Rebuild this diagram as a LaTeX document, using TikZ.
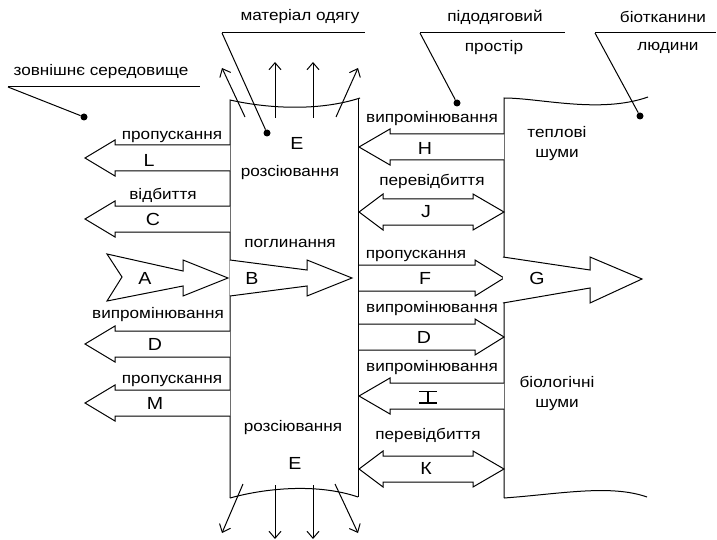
\documentclass[tikz,border=0pt]{standalone}
\usepackage{fontspec}
\setmainfont{Liberation Sans}[FakeStretch=1.12]
\usetikzlibrary{arrows.meta}
\newcommand\arrL[4]{% tip, base, end, cy
  \draw[arr] (#3,{#4-13}) -- (#2,{#4-13}) -- (#2,{#4-18}) -- (#1,#4) -- (#2,{#4+18}) -- (#2,{#4+13}) -- (#3,{#4+13});}
\newcommand\arrR[4]{% tip, base, start, cy
  \draw[arr] (#3,{#4-13}) -- (#2,{#4-13}) -- (#2,{#4-18}) -- (#1,#4) -- (#2,{#4+18}) -- (#2,{#4+13}) -- (#3,{#4+13});}
\newcommand\arrD[5]{% ltip, lbase, rbase, rtip, cy
  \draw[arr] (#1,#5) -- (#2,{#5-18}) -- (#2,{#5-13}) -- (#3,{#5-13}) -- (#3,{#5-18}) -- (#4,#5) -- (#3,{#5+18}) -- (#3,{#5+13}) -- (#2,{#5+13}) -- (#2,{#5+18}) -- cycle;}
\begin{document}
\begin{tikzpicture}[x=1pt,y=-1pt,
  lbl/.style={font=\fontsize{15.3}{17}\selectfont, inner sep=0pt},
  big/.style={font=\fontsize{17.5}{19}\selectfont, inner sep=0pt},
  arr/.style={draw, line width=1pt, fill=white, line join=miter},
  edge/.style={draw, line width=1pt},
  ray/.style={draw, line width=1pt, -{Straight Barb[length=7pt,width=12pt]}},
  dot/.style={circle, fill=black, inner sep=0pt, minimum size=7pt}]
\useasboundingbox (0,0) rectangle (717,540);
% material box
\draw[edge] (230,498) -- (230,100) .. controls (270,109) and (320,111) .. (360,98);
\draw[edge] (358,98) -- (358,497);
\draw[edge] (230,498) .. controls (270,487) and (320,484) .. (358,497);
% body
\draw[edge] (504,498) -- (504,98) .. controls (540,98) and (600,114) .. (648,97);
\draw[edge] (504,498) .. controls (560,494) and (610,484) .. (647,497);
% scattering rays
\draw[ray] (245,117) -- (222,68);
\draw[ray] (275,118) -- (275,62);
\draw[ray] (313,118) -- (313,62);
\draw[ray] (336,117) -- (358,68);
\draw[ray] (243,484) -- (222,533);
\draw[ray] (275,485) -- (275,539);
\draw[ray] (313,485) -- (313,539);
\draw[ray] (335,484) -- (358,533);
% leaders
\node[lbl] (tmat) at (300,17) {матеріал одягу};
\coordinate (cmat) at (222,33);
\draw[edge] (cmat) -- (365,33);
\node[dot] (dmat) at (267,133) {};
\draw[edge] (cmat) -- (dmat);
\node[lbl] (tsub1) at (495,17) {підодяговий};
\node[lbl] (tsub2) at (494,48) {простір};
\coordinate (csub) at (420,33);
\draw[edge] (csub) -- (565,33);
\node[dot] (dsub) at (457,103) {};
\draw[edge] (csub) -- (dsub);
\node[lbl] (tbio1) at (663,17) {біотканини};
\node[lbl] (tbio2) at (668,48) {людини};
\coordinate (cbio) at (595,33);
\draw[edge] (cbio) -- (716,33);
\node[dot] (dbio) at (640,116) {};
\draw[edge] (cbio) -- (dbio);
\node[lbl] (tenv) at (101,72) {зовнішнє середовище};
\coordinate (cenv) at (8,87);
\draw[edge] (cenv) -- (200,87);
\node[dot] (denv) at (84,117) {};
\draw[edge] (cenv) -- (denv);
% left arrows
\arrL{85}{115}{230}{158}
\arrL{85}{115}{230}{219}
\arrL{85}{115}{230}{344}
\arrL{85}{115}{230}{403}
\node[lbl] (t1) at (172,137) {пропускання};
\node[big] (nL) at (149,160) {L};
\node[lbl] (t2) at (163,195) {відбиття};
\node[big] (nC) at (153,219) {C};
\node[lbl] (t3) at (158,315) {випромінювання};
\node[big] (nD1) at (155,344) {D};
\node[lbl] (t4) at (172,381) {пропускання};
\node[big] (nM) at (155,403) {M};
% A and B
\draw[arr] (107,254) -- (183,271) -- (183,260) -- (228,278) -- (183,296) -- (183,286) -- (107,301) -- (122,277) -- cycle;
\draw[arr] (230,260) -- (307,270) -- (307,260) -- (352,278) -- (307,296) -- (307,286) -- (230,296);
\node[big] (nA) at (145,278) {A};
\node[big] (nB) at (252,278) {B};
\node[lbl] (t5) at (290,243) {поглинання};
% material texts
\node[big] (nE1) at (297,143) {E};
\node[lbl] (t6) at (290,173) {розсіювання};
\node[lbl] (t7) at (293,428) {розсіювання};
\node[big] (nE2) at (295,463) {E};
% inner arrows
\arrL{359}{390}{504}{147}
\arrD{359}{383}{473}{504}{212}
\arrR{504}{475}{359}{278}
\arrR{504}{475}{359}{337}
\arrL{359}{390}{504}{396}
\arrD{359}{383}{473}{504}{469}
\node[lbl] (t8) at (432,119) {випромінювання};
\node[big] (nH) at (425,148) {H};
\node[lbl] (t9) at (432,181) {перевідбиття};
\node[big] (nJ) at (426,212) {J};
\node[lbl] (t10) at (416,256) {пропускання};
\node[big] (nF) at (425,278) {F};
\node[lbl] (t11) at (432,309) {випромінювання};
\node[big] (nD2) at (424,337) {D};
\node[lbl] (t12) at (432,368) {випромінювання};
\node[inner sep=0pt, minimum width=17pt, minimum height=11pt] (nI) at (428,397) {};
\draw[line width=1.6pt] (nI.north west) -- (nI.north east);
\draw[line width=1.6pt] (nI.south west) -- (nI.south east);
\draw[line width=1.6pt] (nI.north) -- (nI.south);
\node[lbl] (t13) at (428,435) {перевідбиття};
\node[big] (nK) at (426,468) {К};
% G
\draw[arr] (503,257) -- (590,270) -- (590,257) -- (642,279) -- (590,303) -- (590,288) -- (503,303);
\node[big] (nG) at (537,278) {G};
% body texts
\node[lbl] (t14) at (557,132) {теплові};
\node[lbl] (t15) at (557,155) {шуми};
\node[lbl] (t16) at (557,382) {біологічні};
\node[lbl] (t17) at (557,405) {шуми};
\end{tikzpicture}
\end{document}
